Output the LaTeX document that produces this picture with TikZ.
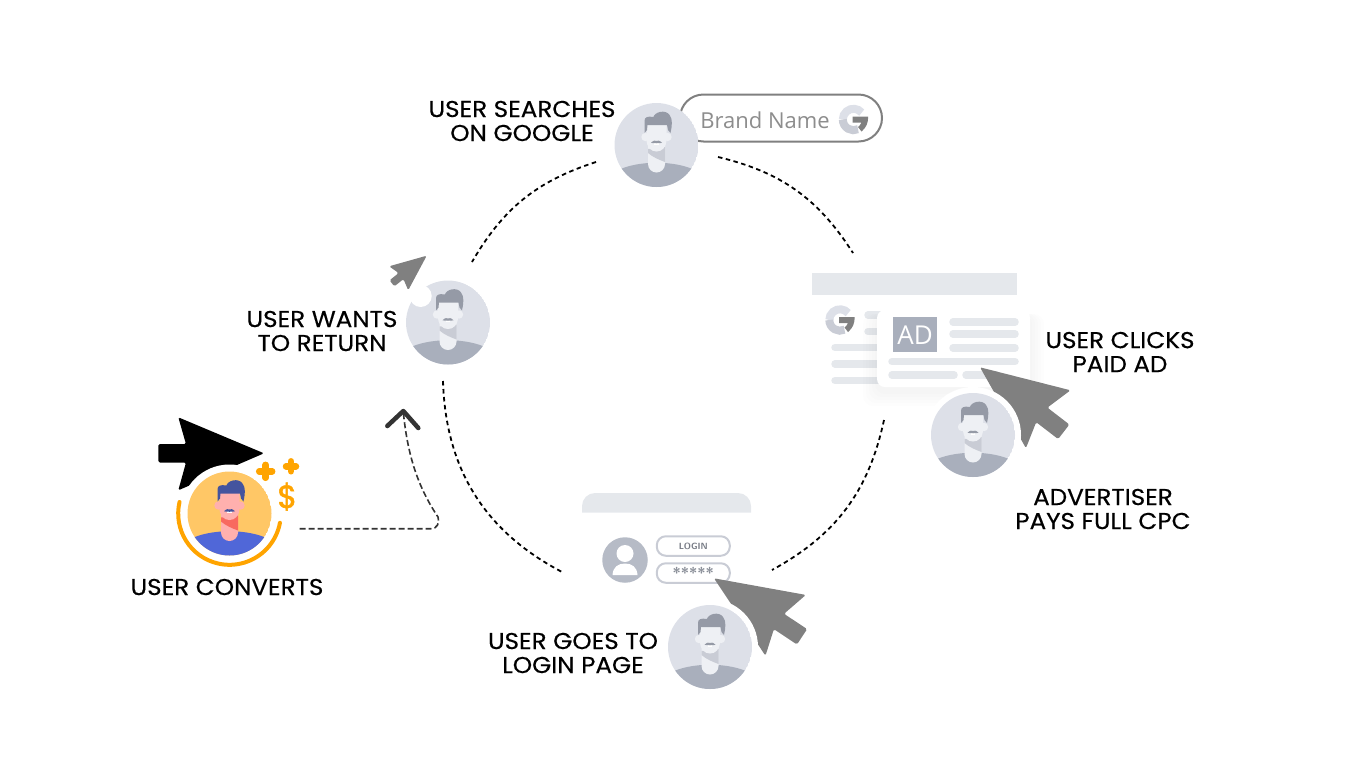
\documentclass[tikz,border=0pt]{standalone}
\usepackage{fontspec}
\newfontfamily\labelfont[FakeBold=0.4, FakeStretch=1.07]{Poppins}
\newfontfamily\coinfont[FakeBold=1.5]{Poppins}
\newfontfamily\uifont{Open Sans}
\definecolor{avbg}{HTML}{DDE0E8}
\definecolor{avbody}{HTML}{A9AFBC}
\definecolor{avskin}{HTML}{EEF0F4}
\definecolor{avneck}{HTML}{C9CCD5}
\definecolor{avhair}{HTML}{959AA6}
\definecolor{cvbg}{HTML}{FFC766}
\definecolor{cvbody}{HTML}{5067D8}
\definecolor{cvskin}{HTML}{FFB0AE}
\definecolor{cvneck}{HTML}{F8695F}
\definecolor{cvhair}{HTML}{44549E}
\definecolor{panel}{HTML}{E5E8EC}
\definecolor{cursorgrey}{HTML}{808080}
\definecolor{coinorange}{HTML}{FFA400}
\tikzset{
	steplabel/.style={font=\labelfont\fontsize{23}{24}\selectfont, align=center, inner sep=0pt, text=black},
	ringline/.style={draw=black, line width=1.8pt, dash pattern=on 4.5pt off 3.5pt},
	returnline/.style={draw=black!80, line width=1.6pt, dash pattern=on 6pt off 3pt},
	textbar/.style={draw=panel, line width=7.5pt, line cap=round},
	field/.style={draw=#1, line width=2pt, rounded corners=9pt, fill=white},
	halo/.style={circle, fill=white, minimum size=96pt, inner sep=0pt},
	avatar/.style={circle, minimum size=84pt, inner sep=0pt},
	pics/person/.style n args={5}{code={
		\begin{scope}
			\clip (0,0) circle (42);
			\fill[#1] (0,0) circle (42);
			\fill[#2] (-40,26) .. controls (-20,15) and (20,15) .. (40,26) -- (40,45) -- (-40,45) -- cycle;
		\end{scope}
		\fill[#3] (-8.5,-2) -- (8.5,-2) -- (8.5,19) arc (0:180:8.5) -- cycle;
		\fill[#4] (-8.5,4) -- (8.5,2) -- (8.5,17) .. controls (3,15) and (-4,12) .. (-8.5,8) -- cycle;
		\fill[#3] (-11,-8) circle (4.2) (11,-8) circle (4.2);
		\fill[#3] (-10,-22) -- (10,-22) -- (10,-6) .. controls (10,3) and (5,6.5) .. (0,6.5) .. controls (-5,6.5) and (-10,3) .. (-10,-6) -- cycle;
		\fill[#5] (-12,-12) -- (-12,-24) .. controls (-12,-28) and (-9,-29) .. (-3,-28)
			.. controls (-2,-33) and (9,-36) .. (13,-30) .. controls (16.5,-26) and (15.5,-19) .. (14,-12)
			-- (11.5,-15) -- (10.5,-20) -- (-9,-20) -- (-9.5,-15) -- cycle;
		\fill[white] (-2.2,-2.5) rectangle (2.2,-.4);
		\fill[#5] (-5.5,-2.2) .. controls (-3,-4.8) and (-1,-4.8) .. (0,-4) .. controls (1,-4.8) and (3,-4.8) .. (5.5,-2.2)
			.. controls (3,-1.6) and (-3,-1.6) .. (-5.5,-2.2) -- cycle;
	}},
	pics/greyperson/.style={person={avbg}{avbody}{avskin}{avneck}{avhair}},
	pics/cursor/.style={code={
		\fill[pic actions, rounded corners=1.5pt] (0,0) -- (-85.7,-36) -- (-78,-9.2) -- (-105.7,-9.2) -- (-105.7,9.2)
			-- (-78,9.2) -- (-85.7,37) -- cycle;
	}},
	pics/googleg/.style={code={
		\draw[line width=8pt, avbg] (-40:10.7) arc (-40:-180:10.7);
		\draw[line width=8pt, avneck] (-180:10.7) arc (-180:-295:10.7);
		\fill[cursorgrey] (-1,-3) -- (14.7,-3) .. controls (14.7,3) and (13,8) .. (8,12) -- (4.5,7.5) .. controls (6,6.5) and (7,5) .. (8,3) -- (-1,3) -- cycle;
	}},
	pics/sparkle/.style={code={
		\draw[line width=6.5pt, line cap=round, coinorange] (-#1,0) -- (#1,0) (0,-#1) -- (0,#1);
		\fill[coinorange] (45:4.5) -- (135:4.5) -- (225:4.5) -- (315:4.5) -- cycle;
	}}
}
\begin{document}
\begin{tikzpicture}[x=1pt, y=-1pt]
	\useasboundingbox (0,0) rectangle (1360,764);
	% dashed ring
	\coordinate (ringA1) at (596,162);
	\coordinate (ringA2) at (472,262);
	\coordinate (ringB1) at (718,157);
	\coordinate (ringB2) at (853,253);
	\coordinate (ringC1) at (884,420);
	\coordinate (ringC2) at (772,570);
	\coordinate (ringD1) at (443,381);
	\coordinate (ringD2) at (564,573);
	\draw[ringline] (ringA1) to[bend right=21] (ringA2);
	\draw[ringline] (ringB1) to[bend left=22] (ringB2);
	\draw[ringline] (ringC1) to[bend left=24.5] (ringC2);
	\draw[ringline] (ringD1) to[bend right=30.5] (ringD2);
	% search step
	\draw[line width=2pt, draw=cursorgrey, fill=white, rounded corners=23.5pt] (680,94.5) rectangle (882,141.5);
	\node[font=\uifont\fontsize{22}{24}\selectfont, text=cursorgrey!90, inner sep=0pt] (brand) at (765,120) {Brand Name};
	\pic at (853.5,119.5) {googleg};
	\node[avatar] (searcher) at (656.5,145) {};
	\pic at (searcher) {greyperson};
	\node[steplabel] (searchlabel) at (522,121) {USER SEARCHES\\ON GOOGLE};
	% return step
	\node[avatar] (returner) at (448,322.5) {};
	\pic at (returner) {greyperson};
	\pic[fill=cursorgrey, rotate=38.5, scale=.42] at (426.7,255.7) {cursor};
	\node[circle, fill=white, minimum size=22pt, inner sep=0pt] (returnhalo) at (420.7,296) {};
	\node[steplabel] (returnlabel) at (322,331) {USER WANTS\\TO RETURN};
	% ad results page
	\fill[panel] (812,273) rectangle (1017,294.5);
	\pic at (840,320) {googleg};
	\draw[textbar] (868,315) -- (885,315);
	\draw[textbar] (868,331.5) -- (885,331.5);
	\foreach \rowy in {347.5,364,380.5}
		\draw[textbar] (835,\rowy) -- (885,\rowy);
	\foreach \spread in {14,11,8,5,2}
		\fill[black, opacity=.008, rounded corners=10pt] (877-\spread,314) rectangle (1030+\spread,392+\spread);
	\fill[white, rounded corners=8pt] (877,310) rectangle (1030,387);
	\node[fill=avbody, minimum width=44pt, minimum height=35pt, inner sep=0pt, text=white, font=\uifont\fontsize{26}{26}\selectfont] (adbadge) at (915,334.7) {AD};
	\foreach \rowy in {322,334,348}
		\draw[textbar] (953,\rowy) -- (1015,\rowy);
	\draw[textbar] (892,361.7) -- (1015,361.7);
	\draw[textbar] (892,375) -- (954,375);
	\draw[textbar] (966,375) -- (996,375);
	\pic[fill=cursorgrey, rotate=142.4] at (980,367.3) {cursor};
	\node[halo] (clickerhalo) at (973,435) {};
	\node[avatar] (clicker) at (973,435) {};
	\pic at (clicker) {greyperson};
	\node[steplabel] (clicklabel) at (1120,352) {USER CLICKS\\PAID AD};
	\node[steplabel] (cpclabel) at (1103,509) {ADVERTISER\\PAYS FULL CPC};
	% login page
	\fill[panel] (582,512.7) -- (582,506) arc (180:270:13) -- (738,493) arc (270:360:13) -- (751,512.7) -- cycle;
	\node[circle, fill=avbody!85, minimum size=45.5pt, inner sep=0pt] (usericon) at (625,560) {};
	\fill[white] (625,553.5) circle (8.5);
	\fill[white] (612.5,575) .. controls (613,567) and (618,563.5) .. (625,563.5) .. controls (632,563.5) and (637,567) .. (637.5,575) -- cycle;
	\node[field=avneck, minimum width=73pt, minimum height=19.5pt, inner sep=0pt, text=avbody!70!black, font=\sffamily\bfseries\fontsize{9}{9}\selectfont] (loginfield) at (693.3,546) {LOGIN};
	\node[field=avneck, minimum width=73pt, minimum height=19.5pt, inner sep=0pt, text=avbody!80!black, font=\sffamily\bfseries\fontsize{15}{15}\selectfont] (passfield) at (693.3,573) {*****};
	\pic[fill=cursorgrey, rotate=146.4] at (714,578.3) {cursor};
	\node[halo] (loginhalo) at (710,647) {};
	\node[avatar] (loginuser) at (710,647) {};
	\pic at (loginuser) {greyperson};
	\node[steplabel] (loginlabel) at (573,653) {USER GOES TO\\LOGIN PAGE};
	% conversion
	\pic[fill=black] at (264,453.3) {cursor};
	\node[circle, fill=white, minimum size=98pt, inner sep=0pt] (convhalo) at (229.5,513.5) {};
	\draw[line width=4pt, draw=coinorange, line cap=round] (229.5,513.5) ++(193:51.3) arc (193:10.4:51.3);
	\node[avatar] (converter) at (229.5,513.5) {};
	\pic at (converter) {person={cvbg}{cvbody}{cvskin}{cvneck}{cvhair}};
	\pic at (265.7,471.3) {sparkle=6.5};
	\pic at (291,466.3) {sparkle=5};
	\node[font=\coinfont\fontsize{32}{32}\selectfont, text=coinorange, inner sep=0pt] (dollar) at (287.3,496.7) {\$};
	\node[steplabel] (convlabel) at (227,587) {USER CONVERTS};
	% way back
	\coordinate (backstart) at (299.5,528.7);
	\coordinate (backtip) at (403.3,412);
	\draw[returnline] (backstart) -- (431,528.7) .. controls (437,528.7) and (440,523) .. (438,517)
		.. controls (420,490) and (408,460) .. (backtip);
	\draw[line width=4.5pt, draw=black!80, line cap=round, line join=round] (387.3,426) -- (403.3,411) -- (418.3,428);
\end{tikzpicture}
\end{document}
